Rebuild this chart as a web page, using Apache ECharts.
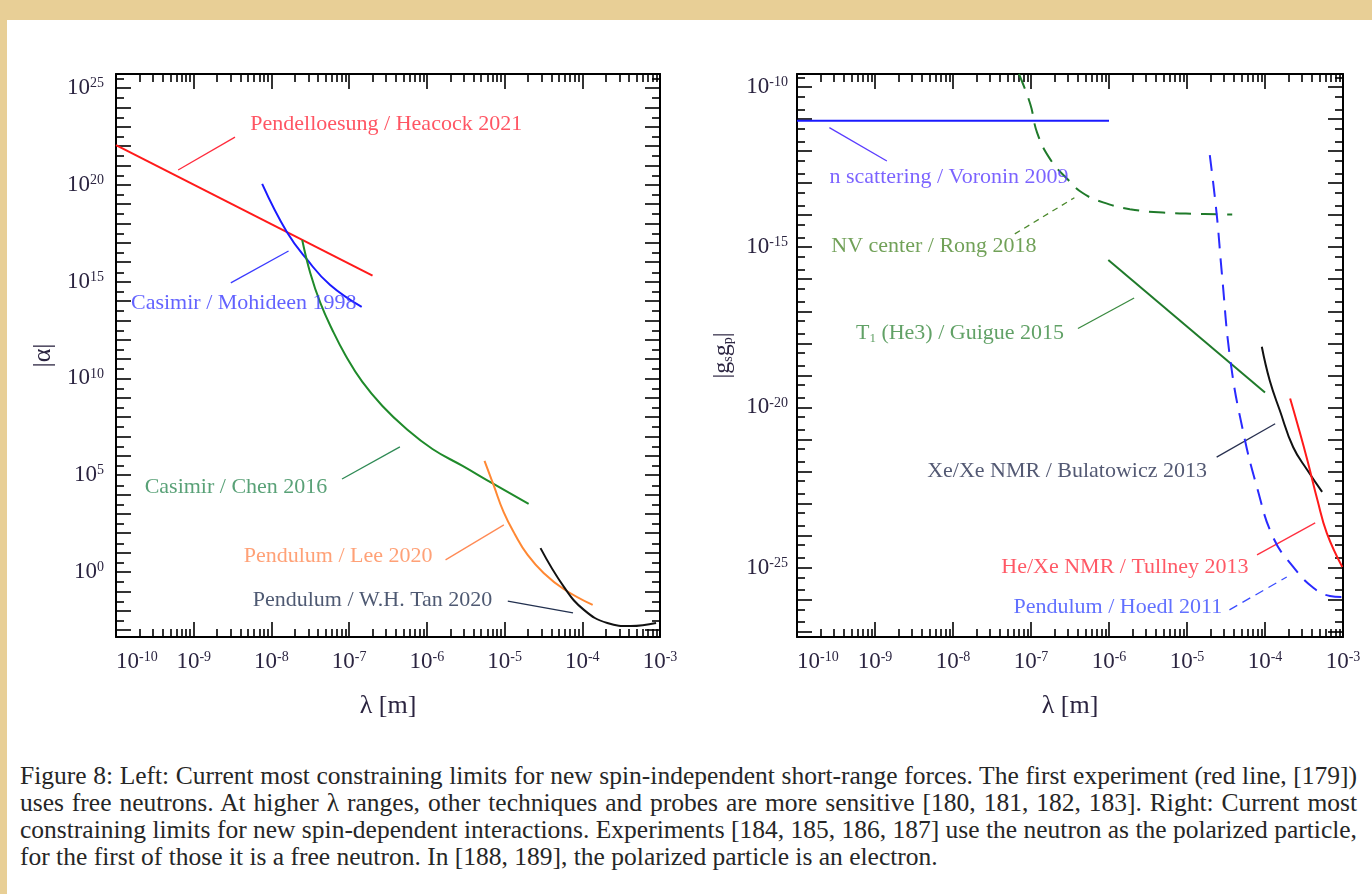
<!DOCTYPE html>
<html>
<head>
<meta charset="utf-8">
<title>Short-range force limits</title>
<script src="https://cdn.jsdelivr.net/npm/echarts@6.0.0/dist/echarts.min.js"></script>
<style>
  html, body { margin: 0; padding: 0; }
  body { width: 1372px; height: 894px; background: #e8cf96; position: relative; overflow: hidden; }
  #paper { position: absolute; left: 7px; top: 20px; width: 1365px; height: 874px; background: #fff; }
  #main { position: absolute; left: 0; top: 0; width: 1372px; height: 740px; }
  #caption { position: absolute; left: 20px; top: 762px; width: 1337px; font-family: "Liberation Serif", serif;
             font-size: 25.5px; line-height: 27px; color: #262626; }
  #caption div { text-align: justify; text-align-last: justify; white-space: nowrap; }
  #caption div.last { text-align-last: left; }
</style>
</head>
<body>
<div id="paper"></div>
<div id="main"></div>
<div id="caption">
  <div>Figure 8: Left: Current most constraining limits for new spin-independent short-range forces. The first experiment (red line, [179])</div>
  <div>uses free neutrons. At higher &lambda; ranges, other techniques and probes are more sensitive [180, 181, 182, 183]. Right: Current most</div>
  <div>constraining limits for new spin-dependent interactions. Experiments [184, 185, 186, 187] use the neutron as the polarized particle,</div>
  <div class="last">for the first of those it is a free neutron. In [188, 189], the polarized particle is an electron.</div>
</div>
<script>
// ---- left panel: spin-independent |alpha| vs lambda [m] ----
var heacockLam = [1e-10, 2.0e-7];
var heacockAlpha = [1.1e22, 2.0e15];

var mohideenLam = [7.6e-9, 1.58e-8, 2.9e-8, 5.7e-8, 1.45e-7];
var mohideenAlpha = [1.1e20, 3.6e17, 1.3e16, 6.6e14, 4.9e13];

var chenLam = [2.49e-8, 3.16e-8, 4.26e-8, 6.08e-8, 8.93e-8, 1.48e-7, 2.68e-7, 5.3e-7, 1.18e-6, 2.88e-6, 7.21e-6, 2.04e-5];
var chenAlpha = [1.41e17, 2.78e15, 7.85e13, 3.16e12, 1.62e11, 6.52e9, 3.75e8, 2.74e7, 2.25e6, 2.99e5, 3.51e4, 3.25e3];

var leeLam = [5.52e-6, 7.21e-6, 9.7e-6, 1.35e-5, 1.98e-5, 3.18e-5, 5.75e-5, 1.36e-4];
var leeAlpha = [5.41e5, 3.12e4, 1.26e3, 91.8, 7.55, 0.887, 0.132, 0.0197];

var tanLam = [2.9e-5, 5.8e-5, 1.05e-4, 2.1e-4, 4.2e-4, 8.9e-4];
var tanAlpha = [17, 0.17, 0.011, 2.3e-3, 1.6e-3, 2.3e-3];

// ---- right panel: spin-dependent |gs gp| vs lambda [m] ----
var voroninLam = [1e-10, 1e-6];
var voroninG = [8.8e-12, 8.8e-12];

var rongLam = [7.0e-8, 9.8e-8, 1.2e-7, 1.75e-7, 2.9e-7, 4.6e-7, 8.4e-7, 1.85e-6, 4.9e-6, 1.34e-5, 3.8e-5];
var rongG = [2.54e-10, 2.9e-11, 3.7e-12, 5.7e-13, 1.37e-13, 4.9e-14, 2.5e-14, 1.54e-14, 1.2e-14, 1.1e-14, 1.05e-14];

var guigueLam = [9.8e-7, 1.0e-4];
var guigueG = [4.0e-16, 2.9e-20];

var hoedlLam = [1.96e-5, 2.4e-5, 2.8e-5, 3.6e-5, 5.2e-5, 7.9e-5, 1.27e-4, 2.3e-4, 4.2e-4, 6.8e-4, 9.8e-4];
var hoedlG = [7.5e-13, 1.1e-14, 1.5e-16, 2.9e-19, 1.94e-21, 3.2e-23, 8.9e-25, 1.05e-25, 2.3e-26, 1.3e-26, 1.2e-26];

var bulatowiczLam = [9.1e-5, 1.15e-4, 1.55e-4, 2.3e-4, 3.5e-4, 5.4e-4];
var bulatowiczG = [7.8e-19, 6.9e-20, 8.0e-21, 5.7e-22, 1.09e-22, 2.3e-23];

var tullneyLam = [2.1e-4, 2.6e-4, 3.5e-4, 4.7e-4, 6.2e-4, 9.8e-4];
var tullneyG = [1.9e-20, 3.1e-21, 2.2e-22, 1.28e-23, 1.2e-24, 1.05e-25];

// tick labels (exponents of 10)
var xLabelExp = [-10, -9, -8, -7, -6, -5, -4, -3];
var leftYLabelExp = [0, 5, 10, 15, 20, 25];
var rightYLabelExp = [-25, -20, -15, -10];

// axis ranges, as exponents of 10
var xRange = [-10, -3];
var leftYRange = [-3.36, 25.72];
var rightYRange = [-27.165, -9.595];

// curve labels: where the text sits and the short leader line next to it
var leftNotes = [
    { text: 'Pendelloesung / Heacock 2021', color: '#ff2b3c', at: [3.0e-7, 1.4e23], from: [6.3e-10, 5.8e20], to: [3.4e-9, 2.9e22] },
    { text: 'Casimir / Mohideen 1998', color: '#3b3bff', at: [4.4e-9, 7.8e13], from: [3.0e-9, 8.5e14], to: [1.66e-8, 3.8e16] },
    { text: 'Casimir / Chen 2016', color: '#2f8a55', at: [3.5e-9, 2.5e4], from: [8.1e-8, 6.3e4], to: [4.5e-7, 2.9e6] },
    { text: 'Pendulum / Lee 2020', color: '#ff8a55', at: [7.2e-8, 6.8], from: [1.74e-6, 4.2], to: [9.8e-6, 2.7e2] },
    { text: 'Pendulum / W.H. Tan 2020', color: '#22304f', at: [2.0e-7, 0.035], from: [1.1e-5, 0.031], to: [7.6e-5, 7.6e-3] }
];
var rightNotes = [
    { text: 'n scattering / Voronin 2009', color: '#5a3cff', at: [8.9e-9, 1.54e-13], from: [2.6e-10, 5.4e-12], to: [1.42e-9, 4.9e-13] },
    { text: 'NV center / Rong 2018', color: '#4d8a2e', at: [5.7e-9, 1.1e-15], from: [6.2e-8, 2.6e-15], to: [3.6e-7, 3.5e-14], dash: [6, 5] },
    { text: '{t|T}{u|1}{t| (He3) / Guigue 2015}', color: '#3a8a40', at: [1.23e-8, 2.0e-18], from: [4.0e-7, 2.9e-18], to: [2.1e-6, 2.6e-17] },
    { text: 'Xe/Xe NMR / Bulatowicz 2013', color: '#283050', at: [2.9e-7, 1.0e-22], from: [2.4e-5, 2.8e-22], to: [1.35e-4, 3.1e-21] },
    { text: 'He/Xe NMR / Tullney 2013', color: '#ff3040', at: [1.6e-6, 1.05e-25], from: [7.9e-5, 2.5e-25], to: [4.4e-4, 2.5e-24] },
    { text: 'Pendulum / Hoedl 2011', color: '#3a4cff', at: [1.3e-6, 5.8e-27], from: [3.5e-5, 4.8e-27], to: [1.9e-4, 5.1e-26], dash: [9, 6] }
];

var SERIF = '"Liberation Serif", "Times New Roman", serif';
var INK = '#2b2440';

function lg(v) { return Math.log10(v); }
function pairs(lam, val) {
    return lam.map(function (l, i) { return [lg(l), lg(val[i])]; });
}
function decades(r) {
    var out = [];
    for (var e = Math.ceil(r[0]); e <= Math.floor(r[1]); e++) out.push(e);
    return out;
}
function subTicks(r, mults) {
    var out = [];
    for (var e = Math.floor(r[0]); e <= Math.ceil(r[1]); e++) {
        mults.forEach(function (m) {
            var v = e + lg(m);
            if (v > r[0] && v < r[1]) out.push(v);
        });
    }
    return out;
}

var expRich = {
    b: { fontFamily: SERIF, fontSize: 23, color: INK },
    s: { fontFamily: SERIF, fontSize: 14, color: INK, verticalAlign: 'top' }
};
function expLabel(v) { return '{b|10}{s|' + Math.round(v) + '}'; }

// four axes per side pair: labelled major, minor, mirrored major, mirrored minor
function frame(dim, gi, range, labels, minorMults, majorLen, minorLen, extra) {
    var sides = dim === 'x' ? ['bottom', 'top'] : ['left', 'right'];
    var majors = decades(range);
    var minors = subTicks(range, minorMults);
    var list = [];
    sides.forEach(function (side, k) {
        [true, false].forEach(function (isMajor) {
            var ax = {
                type: 'value',
                gridIndex: gi,
                position: side,
                min: range[0],
                max: range[1],
                axisLine: { show: isMajor, onZero: false, lineStyle: { color: '#000', width: 2 } },
                axisTick: {
                    show: true, inside: true,
                    length: isMajor ? majorLen : minorLen,
                    customValues: isMajor ? majors : minors,
                    lineStyle: { color: '#000', width: 1.6 }
                },
                axisLabel: { show: false },
                splitLine: { show: false }
            };
            if (k === 0 && isMajor) {
                ax.axisLabel = {
                    show: true, customValues: labels, formatter: expLabel, rich: expRich,
                    margin: extra.margin
                };
                if (dim === 'x') ax.axisLabel.alignMinLabel = 'left';
                ax.name = extra.name;
                ax.nameLocation = 'middle';
                ax.nameGap = extra.nameGap;
                ax.nameTextStyle = extra.nameTextStyle;
            }
            list.push(ax);
        });
    });
    return list;
}

function curve(gi, lam, val, color, dash) {
    return {
        type: 'line', xAxisIndex: gi * 4, yAxisIndex: gi * 4,
        data: pairs(lam, val),
        symbol: 'none', smooth: 0.45, silent: true, z: 3,
        lineStyle: { color: color, width: 2, type: dash || 'solid' }
    };
}

function leaders(gi, notes) {
    return notes.map(function (n) {
        return {
            type: 'line', xAxisIndex: gi * 4, yAxisIndex: gi * 4,
            data: [[lg(n.from[0]), lg(n.from[1])], [lg(n.to[0]), lg(n.to[1])]],
            symbol: 'none', silent: true, z: 2,
            lineStyle: { color: n.color, width: 1.3, type: n.dash || 'solid' }
        };
    });
}

function texts(gi, notes) {
    return {
        type: 'scatter', xAxisIndex: gi * 4, yAxisIndex: gi * 4,
        symbolSize: 0, silent: true, z: 4,
        itemStyle: { color: 'rgba(0,0,0,0)' },
        data: notes.map(function (n) {
            return {
                value: [lg(n.at[0]), lg(n.at[1])],
                label: {
                    show: true, position: 'inside', formatter: n.text,
                    color: n.color, fontFamily: SERIF, fontSize: 22,
                    rich: {
                        t: { color: n.color, fontFamily: SERIF, fontSize: 22 },
                        u: { color: n.color, fontFamily: SERIF, fontSize: 13, verticalAlign: 'bottom' }
                    }
                }
            };
        })
    };
}

var nameStyle = { fontFamily: SERIF, fontSize: 26, color: INK };
var minorX = [2, 3, 4, 5, 6, 7, 8, 9];

var xAxes = []
    .concat(frame('x', 0, xRange, xLabelExp, minorX, 15, 8,
        { margin: 13, name: 'λ [m]', nameGap: 56, nameTextStyle: nameStyle }))
    .concat(frame('x', 1, xRange, xLabelExp, minorX, 15, 8,
        { margin: 13, name: 'λ [m]', nameGap: 56, nameTextStyle: nameStyle }));

var yAxes = []
    .concat(frame('y', 0, leftYRange, leftYLabelExp, [3], 15, 8,
        { margin: 12, name: '|α|', nameGap: 60, nameTextStyle: nameStyle }))
    .concat(frame('y', 1, rightYRange, rightYLabelExp, [2, 5], 15, 8,
        { margin: 9, name: '{a||g}{u|s}{a|g}{u|p}{a||}', nameGap: 62,
          nameTextStyle: {
              fontFamily: SERIF, fontSize: 24, color: INK,
              rich: {
                  a: { fontFamily: SERIF, fontSize: 24, color: INK },
                  u: { fontFamily: SERIF, fontSize: 14, color: INK, verticalAlign: 'bottom' }
              }
          } }));

var option = {
    animation: false,
    backgroundColor: 'transparent',
    grid: [
        { left: 116, top: 74, width: 544, height: 563 },
        { left: 797, top: 74, width: 546, height: 563 }
    ],
    xAxis: xAxes,
    yAxis: yAxes,
    series: [
        curve(0, heacockLam, heacockAlpha, '#ff1a1a'),
        curve(0, mohideenLam, mohideenAlpha, '#1a1aff'),
        curve(0, chenLam, chenAlpha, '#1f8a2a'),
        curve(0, leeLam, leeAlpha, '#ff8833'),
        curve(0, tanLam, tanAlpha, '#111111'),
        curve(1, voroninLam, voroninG, '#1a1aff'),
        curve(1, rongLam, rongG, '#1f7a2a', [16, 10]),
        curve(1, guigueLam, guigueG, '#1f7a2a'),
        curve(1, hoedlLam, hoedlG, '#2a2aff', [16, 10]),
        curve(1, bulatowiczLam, bulatowiczG, '#111111'),
        curve(1, tullneyLam, tullneyG, '#ff1a1a'),
        texts(0, leftNotes),
        texts(1, rightNotes)
    ].concat(leaders(0, leftNotes)).concat(leaders(1, rightNotes))
};

var myChart = echarts.init(document.getElementById('main'));
myChart.setOption(option);
</script>
</body>
</html>
